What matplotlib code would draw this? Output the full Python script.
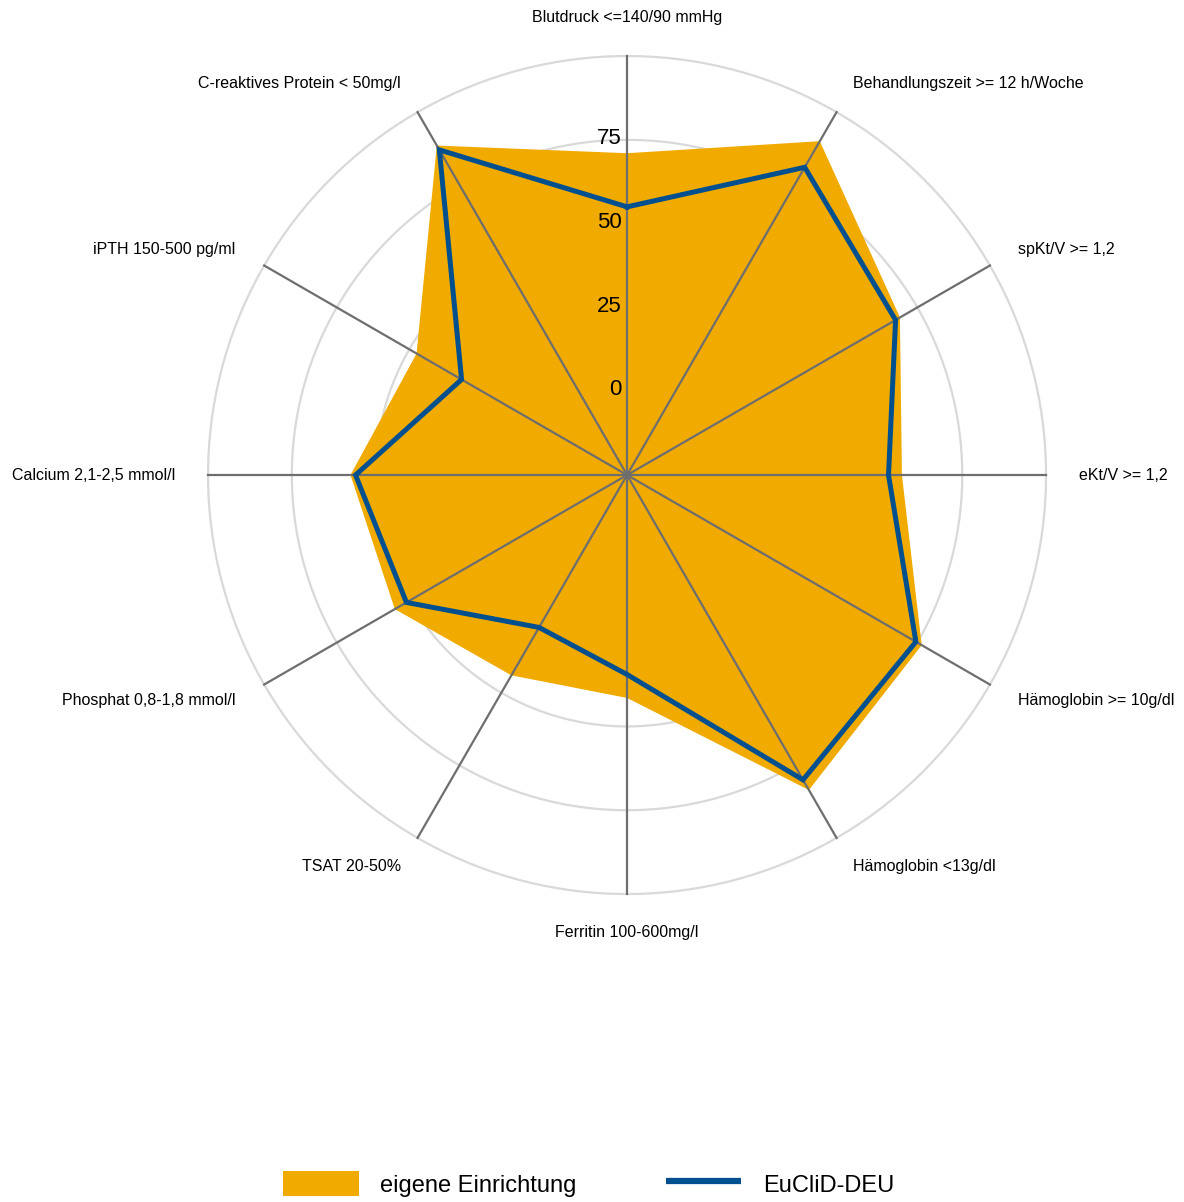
import numpy as np
import matplotlib.pyplot as plt
from matplotlib.patches import Patch
from matplotlib.lines import Line2D

plt.rcParams['font.family'] = ['Liberation Sans', 'DejaVu Sans']

# Qualitätsindikatoren (im Uhrzeigersinn ab oben)
labels = ['Blutdruck <=140/90 mmHg', 'Behandlungszeit >= 12 h/Woche', 'spKt/V >= 1,2',
          'eKt/V >= 1,2', 'Hämoglobin >= 10g/dl', 'Hämoglobin <13g/dl',
          'Ferritin 100-600mg/l', 'TSAT 20-50%', 'Phosphat 0,8-1,8 mmol/l',
          'Calcium 2,1-2,5 mmol/l', 'iPTH 150-500 pg/ml', 'C-reaktives Protein < 50mg/l']
eigene = [71, 90, 69, 57, 76.5, 83.5, 41.5, 44, 55, 57.5, 47.5, 88.5]
euclid = [55, 81, 67.5, 53, 74.5, 80, 34.5, 27.5, 51, 56, 32, 87]
grid_vals = [0, 25, 50, 75, 100]
tick_vals = [0, 25, 50, 75]

orange = '#F0AA00'
blue = '#00508F'

n = len(labels)
theta = np.arange(n) * 2 * np.pi / n
theta_c = np.append(theta, theta[0])

fig = plt.figure(figsize=(11.84, 12.02), dpi=100)
ax = fig.add_axes([0.1757, 0.2562, 0.7078, 0.6972], projection='polar')
ax.set_theta_zero_location('N')
ax.set_theta_direction(-1)
ax.set_ylim(-25, 100)
ax.set_xticks([])
ax.set_yticks([])
ax.grid(False)
ax.spines['polar'].set_visible(False)
ax.set_facecolor('none')

# Kreise
circ = np.linspace(0, 2 * np.pi, 400)
for g in grid_vals:
    ax.plot(circ, np.full_like(circ, g), color='#D9D9D9', lw=1.6, zorder=1, clip_on=False)

# Fläche eigene Einrichtung
ax.fill(theta_c, np.append(eigene, eigene[0]), color=orange, lw=0, zorder=2)

# Achsen
for t in theta:
    ax.plot([t, t], [-25, 100], color='#6E6E6E', lw=1.6, zorder=3, clip_on=False)

# EuCliD-DEU
ax.plot(theta_c, np.append(euclid, euclid[0]), color=blue, lw=3.6, zorder=4,
        solid_joinstyle='miter')

# Skalenbeschriftung
for v in tick_vals:
    ax.annotate(str(v), xy=(0, v), xytext=(-4, 1), textcoords='offset points',
                ha='right', va='center', fontsize=16, zorder=5)

# Achsenbeschriftungen
for t, lab in zip(theta, labels):
    deg = np.degrees(t) % 360
    if np.isclose(deg, 0) or np.isclose(deg, 180):
        ha, r = 'center', 111.6
    elif deg < 180:
        ha, r = 'left', 109.8
    else:
        ha, r = 'right', 109.8
    ax.text(t, r, lab, ha=ha, va='center', fontsize=11.5, clip_on=False)

handles = [Patch(facecolor=orange, edgecolor='none', label='eigene Einrichtung'),
           Line2D([0], [0], color=blue, lw=4.5, solid_capstyle='butt', label='EuCliD-DEU')]
fig.legend(handles=handles, loc='center', bbox_to_anchor=(0.497, 0.015), ncol=2,
           frameon=False, fontsize=17, handlelength=3.2, handleheight=1.25,
           handletextpad=0.9, columnspacing=3.8)

fig.savefig('out.png', dpi=100, facecolor='white')
